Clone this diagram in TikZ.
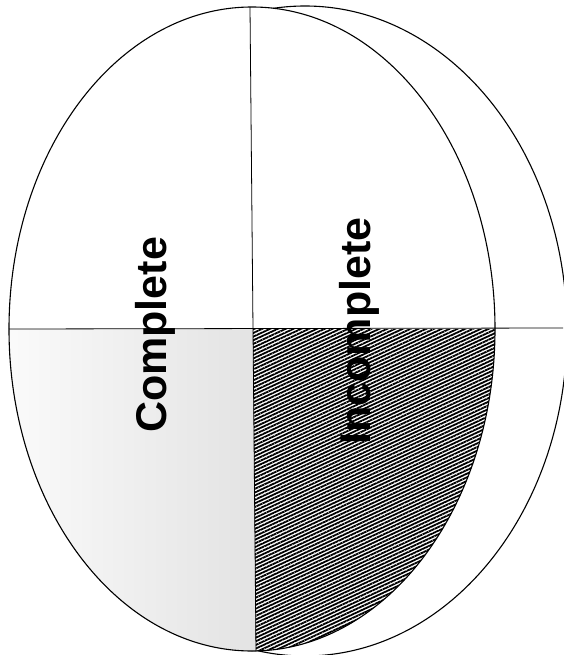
\documentclass[tikz,border=0pt]{standalone}
\usepackage{fontspec}
\setmainfont{Liberation Sans}
\usetikzlibrary{patterns.meta}
\begin{document}
\begin{tikzpicture}[x=1pt,y=-1pt,
  outline/.style={draw=black, line width=1.1pt},
  divider/.style={draw=black, line width=0.8pt},
  sidelabel/.style={font=\fontsize{43}{43}\selectfont\bfseries, rotate=90, anchor=base, inner sep=0pt}]
\useasboundingbox[fill=white] (0,0) rectangle (563,655);
% fills of the lower quadrants, clipped to the front ellipse
\begin{scope}
  \clip (252,329) ellipse [x radius=243, y radius=322];
  \fill[left color=gray!3, right color=gray!22] (0,329) -- (253,329) -- (256,670) -- (0,670) -- cycle;
  \fill[pattern={Lines[angle=25,distance=3.3pt,line width=1.8pt]}] (253,329) -- (600,329) -- (600,670) -- (256,670) -- cycle;
\end{scope}
% back ellipse, only outside the front one
\begin{scope}[even odd rule]
  \clip (-20,-20) rectangle (620,700) (252,329) ellipse [x radius=243, y radius=322];
  \draw[outline] (305,331) ellipse [x radius=262, y radius=325];
\end{scope}
% front ellipse
\draw[outline] (252,329) ellipse [x radius=243, y radius=322];
% dividers
\coordinate (hl) at (9,329);
\coordinate (hr) at (563,328);
\coordinate (vt) at (250,7);
\coordinate (vb) at (256,651);
\draw[divider] (hl) -- (hr);
\draw[divider] (vt) -- (vb);
% labels
\node[sidelabel] (complete) at (166,335) {Complete};
\node[sidelabel] (incomplete) at (370,331) {Incomplete};
\end{tikzpicture}
\end{document}
